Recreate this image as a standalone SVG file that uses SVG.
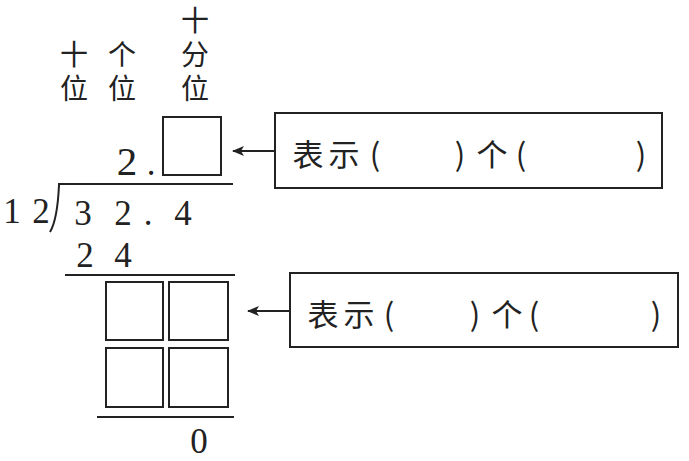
<svg xmlns="http://www.w3.org/2000/svg" width="689" height="461" viewBox="0 0 689 461">
<style>
.cjk{font-family:"Noto Sans CJK SC","Noto Sans CJK JP",sans-serif;font-size:31px;fill:#222;text-anchor:middle}
.hd{font-family:"Noto Sans CJK SC","Noto Sans CJK JP",sans-serif;font-size:28px;fill:#222;text-anchor:middle}
.num{font-family:"Liberation Serif",serif;font-size:35px;fill:#222;text-anchor:middle}
.big{font-size:41px}
.ln{stroke:#222;stroke-width:2;fill:none}
.box{stroke:#222;stroke-width:2;fill:#fff}
</style>
<defs>
<marker id="ah" markerWidth="12" markerHeight="10" refX="11" refY="5" orient="auto" markerUnits="userSpaceOnUse">
<path d="M0,0 L12,5 L0,10 L3,5 Z" fill="#222"/>
</marker>
</defs>
<rect width="689" height="461" fill="#fff"/>
<g id="headers">
<text class="hd" x="195" y="31">十</text>
<text class="hd" x="74" y="65">十</text>
<text class="hd" x="122" y="65">个</text>
<text class="hd" x="195" y="65">分</text>
<text class="hd" x="74" y="99">位</text>
<text class="hd" x="122" y="99">位</text>
<text class="hd" x="195" y="99">位</text>
</g>
<g id="quotient">
<text class="num big" x="127" y="175">2</text>
<text class="num" x="151" y="175">.</text>
<rect class="box" x="163" y="117" width="58" height="58"/>
</g>
<g id="division">
<path class="ln" d="M58,184 L233,184"/>
<path class="ln" d="M59,185 C58,207 56,222 50,232"/>
<text class="num" x="12" y="223">1</text>
<text class="num" x="41" y="223">2</text>
<text class="num" x="83" y="225">3</text>
<text class="num" x="123" y="225">2</text>
<text class="num" x="148" y="225">.</text>
<text class="num" x="183" y="225">4</text>
<text class="num" x="85" y="267">2</text>
<text class="num" x="123" y="267">4</text>
<path class="ln" d="M65,275 L235,275"/>
<rect class="box" x="106" y="282" width="57" height="58"/>
<rect class="box" x="169" y="282" width="59" height="58"/>
<rect class="box" x="106" y="348" width="57" height="59"/>
<rect class="box" x="169" y="348" width="59" height="59"/>
<path class="ln" d="M97,417 L234,417"/>
<text class="num" x="199" y="453">0</text>
</g>
<g id="label1">
<rect class="box" x="275" y="113" width="387" height="75"/>
<text class="cjk" x="308" y="166">表</text>
<text class="cjk" x="344" y="166">示</text>
<text class="cjk" x="375" y="166">(</text>
<text class="cjk" x="460" y="166">)</text>
<text class="cjk" x="492" y="166">个</text>
<text class="cjk" x="521" y="166">(</text>
<text class="cjk" x="641" y="166">)</text>
</g>
<g id="label2">
<rect class="box" x="290" y="273" width="388" height="74"/>
<text class="cjk" x="323" y="326">表</text>
<text class="cjk" x="359" y="326">示</text>
<text class="cjk" x="389" y="326">(</text>
<text class="cjk" x="475" y="326">)</text>
<text class="cjk" x="507" y="326">个</text>
<text class="cjk" x="534" y="326">(</text>
<text class="cjk" x="656" y="326">)</text>
</g>
<g id="connectors">
<line class="ln" x1="275" y1="151" x2="233" y2="151" marker-end="url(#ah)"/>
<line class="ln" x1="290" y1="311" x2="248" y2="311" marker-end="url(#ah)"/>
</g>
</svg>
